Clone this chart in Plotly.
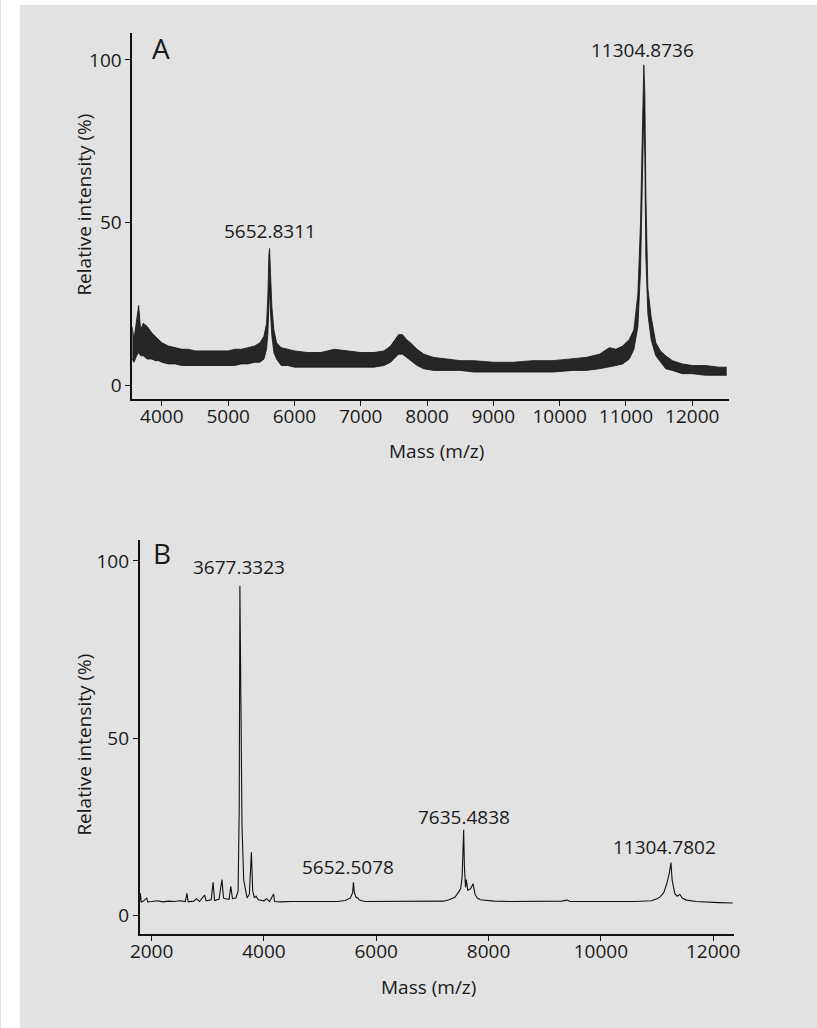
import plotly.graph_objects as go

W, H = 817, 1028
BG = "#e2e2e2"
INK = "#1a1a1a"
FONT = "Open Sans"

# ---------------- Panel A (noisy spectrum: lower / upper envelope of the trace)
A_mass = [3553, 3580, 3620, 3650, 3680, 3720, 3780, 3850, 3900, 3950, 4000, 4100, 4200, 4300,
          4400, 4500, 4600, 4700, 4800, 4900, 5000, 5100, 5200, 5300, 5400, 5480, 5540, 5580,
          5600, 5615, 5625, 5640, 5660, 5690, 5730, 5800, 5900, 6000, 6200, 6400, 6600, 6800,
          7000, 7200, 7350, 7450, 7520, 7570, 7630, 7690, 7750, 7850, 7950, 8100, 8300, 8500, 8700,
          9000, 9300, 9600, 9900, 10200, 10400, 10600, 10750, 10850, 10950, 11050, 11120, 11180,
          11220, 11250, 11270, 11285, 11300, 11330, 11380, 11450, 11520, 11600, 11700, 11850,
          12000, 12200, 12400, 12520]
A_lo = [8, 7, 9, 10, 9, 9, 8, 8, 7.5, 7.5, 7, 6.5, 6.5, 6,
        6, 6, 6, 6, 6, 6, 6, 6, 6.5, 6.5, 7, 7, 8, 11,
        16, 26, 30, 22, 15, 10, 8, 6, 6, 5.5, 5.5, 5.5, 5.5, 5.5,
        5.5, 5.5, 6, 7, 8.5, 9.5, 9.5, 8.5, 7.5, 6, 5, 4.5, 4.5, 4.5, 4,
        4, 4, 4, 4, 4.5, 4.5, 5, 5.5, 6, 6.5, 8, 11, 18,
        35, 60, 85, 70, 40, 22, 14, 9, 7, 5, 4.5, 3.5,
        3.5, 3, 3, 3]
A_hi = [18, 14, 20, 24.5, 17, 19, 18, 16, 15, 14, 13, 12, 11.5, 11,
        11, 10.5, 10.5, 10.5, 10.5, 10.5, 10.5, 11, 11, 11.5, 12, 13, 15, 19,
        28, 40, 42, 34, 24, 17, 13, 11.5, 11, 10.5, 10, 10, 11, 10.5,
        10, 10, 10.5, 12, 14, 15.5, 15.5, 14, 13, 11, 9.5, 8.5, 8, 7.5, 7.5,
        7, 7, 7.5, 7.5, 8, 8.5, 9.5, 11.5, 11, 12, 14, 17, 28,
        50, 80, 98.5, 90, 60, 30, 21, 13, 10.5, 9, 7.5, 6.5,
        6, 6, 5.5, 5.5]
A_labels = ["5652.8311", "11304.8736"]
A_label_x = [5633, 11245]
A_label_y = [47.4, 103.1]

# ---------------- Panel B (clean spectrum)
B_mass = [1785, 1800, 1815, 1860, 1913, 1930, 2000, 2100, 2200, 2300, 2400, 2500, 2600, 2629,
          2650, 2750, 2800, 2850, 2944, 2970, 3060, 3095, 3120, 3200, 3253, 3280, 3320, 3380,
          3410, 3440, 3500, 3540, 3560, 3572, 3590, 3610, 3640, 3680, 3700, 3740, 3777, 3800,
          3830, 3860, 3900, 4000, 4050, 4100, 4172, 4190, 4300, 4500, 4700, 4900, 5100, 5300,
          5450, 5540, 5580, 5594, 5610, 5640, 5670, 5700, 5800, 6000, 6300, 6600, 6900, 7200,
          7300, 7340, 7400, 7460, 7504, 7530, 7550, 7557, 7570, 7590, 7604, 7630, 7680, 7726,
          7760, 7800, 7854, 7950, 8100, 8400, 8700, 9000, 9300, 9397, 9450, 9700, 10000, 10300,
          10600, 10900, 11000, 11057, 11120, 11174, 11220, 11249, 11270, 11300, 11318, 11360,
          11406, 11450, 11523, 11700, 11900, 12100, 12349]
B_int = [4.0, 6.3, 3.8, 4.2, 5.0, 3.9, 4.0, 4.2, 3.9, 4.1, 4.0, 4.2, 4.0, 6.3,
         3.9, 4.1, 4.8, 4.0, 5.8, 4.2, 4.5, 9.4, 4.3, 4.6, 10.2, 5.0, 4.8, 4.6,
         8.3, 4.8, 5.0, 7.0, 30, 93, 60, 25, 10, 6, 5.0, 6, 17.9, 7,
         5, 5.5, 4.5, 4.2, 4.8, 4.0, 6.1, 4.0, 3.9, 4.0, 4.0, 4.0, 3.9, 4.0,
         4.3, 5, 6.5, 9.4, 6.5, 5.2, 5.0, 4.4, 4.0, 4.0, 4.0, 3.9, 4.0, 4.1,
         4.5, 4.8, 5.2, 6.5, 7.6, 11, 18, 24.2, 14, 8, 10.2, 7.2, 7.6, 9.0,
         6, 5, 4.5, 4.3, 4.1, 4.0, 4.0, 4.0, 4.1, 4.4, 4.0, 4.0, 3.9, 4.0,
         4.0, 4.2, 4.8, 5.3, 6.5, 9, 12, 15.0, 10, 7, 6.2, 5.5,
         6.0, 5, 4.4, 4.0, 3.8, 3.7, 3.6]
B_labels = ["3677.3323", "5652.5078", "7635.4838", "11304.7802"]
B_label_x = [3550, 5495, 7565, 11139]
B_label_y = [98.3, 13.8, 27.9, 19.5]

y_ticks = [0, 50, 100]
A_xticks = [4000, 5000, 6000, 7000, 8000, 9000, 10000, 11000, 12000]
B_xticks = [2000, 4000, 6000, 8000, 10000, 12000]

fig = go.Figure()

fig.add_trace(go.Scatter(x=A_mass, y=A_lo, mode="lines", line=dict(color="#111", width=0.8),
                         xaxis="x", yaxis="y", showlegend=False, hoverinfo="skip"))
fig.add_trace(go.Scatter(x=A_mass, y=A_hi, mode="lines", line=dict(color="#111", width=0.8),
                         fill="tonexty", fillcolor="#262626",
                         xaxis="x", yaxis="y", showlegend=False, hoverinfo="skip"))
fig.add_trace(go.Scatter(x=B_mass, y=B_int, mode="lines", line=dict(color="#111", width=1.1),
                         xaxis="x2", yaxis="y2", showlegend=False, hoverinfo="skip"))

def px_x(p):
    return p / W

def px_y(p):
    return 1 - p / H

axis_common = dict(showline=True, linecolor="#111", linewidth=1.5, ticks="outside",
                   ticklen=5, tickwidth=1.3, tickcolor="#111", showgrid=False, zeroline=False,
                   tickfont=dict(family=FONT, size=19, color=INK))

fig.update_layout(
    width=W, height=H, autosize=False, margin=dict(l=0, r=0, t=0, b=0, pad=0),
    paper_bgcolor=BG, plot_bgcolor=BG,
    xaxis=dict(domain=[px_x(125.5), px_x(733.3)], range=[3553, 12552], anchor="y",
               tickvals=A_xticks, ticktext=[str(v) for v in A_xticks],
               ticklabelstandoff=-6, **axis_common),
    yaxis=dict(domain=[px_y(399), px_y(33)], range=[-4.3, 108.3], anchor="x",
               tickvals=y_ticks, ticktext=[str(v) for v in y_ticks], **axis_common),
    xaxis2=dict(domain=[px_x(133), px_x(738.7)], range=[1785, 12374], anchor="y2",
                tickvals=B_xticks, ticktext=[str(v) for v in B_xticks],
                ticklabelstandoff=-6, **axis_common),
    yaxis2=dict(domain=[px_y(934.3), px_y(540)], range=[-5.24, 105.9], anchor="x2",
                tickvals=y_ticks, ticktext=[str(v) for v in y_ticks], **axis_common),
)

ann = []
for t, x, y in zip(A_labels, A_label_x, A_label_y):
    ann.append(dict(text=t, x=x, y=y, xref="x", yref="y", showarrow=False,
                    font=dict(family=FONT, size=19, color=INK)))
for t, x, y in zip(B_labels, B_label_x, B_label_y):
    ann.append(dict(text=t, x=x, y=y, xref="x2", yref="y2", showarrow=False,
                    font=dict(family=FONT, size=19, color=INK)))
ann.append(dict(text="A", x=3990, y=103.7, xref="x", yref="y", showarrow=False,
                font=dict(family=FONT, size=28, color=INK)))
ann.append(dict(text="B", x=2180, y=102.1, xref="x2", yref="y2", showarrow=False,
                font=dict(family=FONT, size=28, color=INK)))
for (cx, cy) in [(435, 451), (427, 986.7)]:
    ann.append(dict(text="Mass (m/z)", x=px_x(cx), y=px_y(cy), xref="paper", yref="paper",
                    showarrow=False, xanchor="center", yanchor="middle",
                    font=dict(family=FONT, size=19, color=INK)))
for (cx, cy) in [(76, 205), (76, 745)]:
    ann.append(dict(text="Relative intensity (%)", x=px_x(cx), y=px_y(cy), xref="paper",
                    yref="paper", showarrow=False, textangle=-90, xanchor="center",
                    yanchor="middle", font=dict(family=FONT, size=19, color=INK)))
fig.update_layout(annotations=ann)

fig.update_layout(shapes=[
    dict(type="rect", xref="paper", yref="paper", x0=-0.01, x1=px_x(11), y0=-0.01, y1=1.01,
         fillcolor="white", line=dict(width=0), layer="above"),
    dict(type="rect", xref="paper", yref="paper", x0=-0.01, x1=1.01, y0=px_y(5), y1=1.01,
         fillcolor="white", line=dict(width=0), layer="above"),
])

fig.write_html(
    "out.html",
    config={"displayModeBar": False, "responsive": False},
    post_script=("document.documentElement.style.margin='0';"
                 "document.documentElement.style.overflow='hidden';"
                 "document.body.style.margin='0';document.body.style.padding='0';"
                 "document.body.style.overflow='hidden';"),
)
